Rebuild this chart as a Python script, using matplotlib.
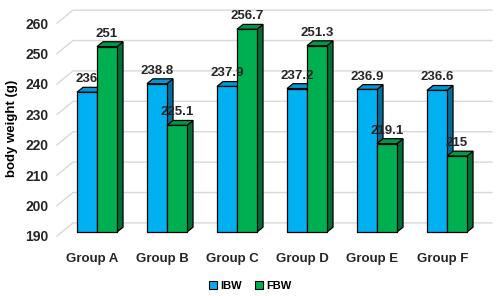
import numpy as np
import matplotlib
matplotlib.use('Agg')
import matplotlib.pyplot as plt
from matplotlib.patches import Polygon, Patch

plt.rcParams['font.family'] = ['Liberation Sans', 'DejaVu Sans']
plt.rcParams['font.weight'] = 'bold'

groups = ['Group A', 'Group B', 'Group C', 'Group D', 'Group E', 'Group F']
ibw = [236, 238.8, 237.9, 237.2, 236.9, 236.6]
fbw = [251, 225.1, 256.7, 251.3, 219.1, 215]
ibw_labels = ['236', '238.8', '237.9', '237.2', '236.9', '236.6']
fbw_labels = ['251', '225.1', '256.7', '251.3', '219.1', '215']
yticks = [190, 200, 210, 220, 230, 240, 250, 260]

# colours: front, top, side
blue = ('#00B0F0', '#0098D2', '#006E9C')
green = ('#00B050', '#009A44', '#006F33')

fig = plt.figure(figsize=(5.0, 2.96), dpi=100)
ax = fig.add_axes([57/500, 60/296, 435/500, 231/296])
ax.set_xlim(-40/70, 395/70)
ax.set_ylim(190, 190 + 231/3.04)
for s in ax.spines.values():
    s.set_visible(False)

# back wall gridlines with perspective step
xl, xr = ax.get_xlim()
dxw, dyw = 0.229, 4.3
for v in yticks:
    ax.plot([xl, xl + dxw, xr], [v, v + dyw, v + dyw], color='#D9D9D9', lw=1.0, zorder=0, clip_on=False)

# pseudo 3d bars
w = 20/70
off_y = 1.3
ddx, ddy = 0.086, 1.6
base = 190


def bar3d(x0, val, cols, z):
    b = base + off_y
    t = val + off_y
    x1 = x0 + w
    ax.add_patch(Polygon([(x1, b), (x1 + ddx, b + ddy), (x1 + ddx, t + ddy), (x1, t)],
                         facecolor=cols[2], edgecolor='black', lw=0.9, zorder=z))
    ax.add_patch(Polygon([(x0, t), (x0 + ddx, t + ddy), (x1 + ddx, t + ddy), (x1, t)],
                         facecolor=cols[1], edgecolor='black', lw=0.9, zorder=z))
    ax.add_patch(Polygon([(x0, b), (x1, b), (x1, t), (x0, t)],
                         facecolor=cols[0], edgecolor='black', lw=0.9, zorder=z + 0.5))
    return t + ddy


for i in range(len(groups)):
    tb = bar3d(i - w, ibw[i], blue, 2 + i)
    ax.annotate(ibw_labels[i], (i - w/2, tb), xytext=(0, 1.5), textcoords='offset points',
                ha='center', va='bottom', fontsize=9.5, fontweight='bold', color='#262626', zorder=20)
    tg = bar3d(i, fbw[i], green, 2.7 + i)
    ax.annotate(fbw_labels[i], (i + w/2, tg), xytext=(0, 1.5), textcoords='offset points',
                ha='center', va='bottom', fontsize=9.5, fontweight='bold', color='#262626', zorder=20)

ax.set_yticks(yticks)
ax.set_yticklabels([str(v) for v in yticks], fontsize=10, fontweight='bold', color='#262626')
ax.set_xticks(np.arange(len(groups)) - 0.065)
ax.set_xticklabels(groups, fontsize=9.5, fontweight='bold', color='#262626')
ax.tick_params(axis='y', length=0, pad=6)
ax.tick_params(axis='x', length=0, pad=12)

fig.text(0.024, 1 - 128/296, 'body weight (g)', rotation=90, ha='center', va='center',
         fontsize=9.5, fontweight='bold', color='black')

handles = [Patch(facecolor=blue[0], edgecolor='black', lw=0.8, label='IBW'),
           Patch(facecolor=green[0], edgecolor='black', lw=0.8, label='FBW')]
fig.legend(handles=handles, loc='center', bbox_to_anchor=(0.5, 1 - 286/296), ncol=2, frameon=False,
           handlelength=0.7, handleheight=0.7, handletextpad=0.3, columnspacing=1.2,
           prop={'size': 8, 'weight': 'bold'})

fig.savefig('out.png', dpi=100)
